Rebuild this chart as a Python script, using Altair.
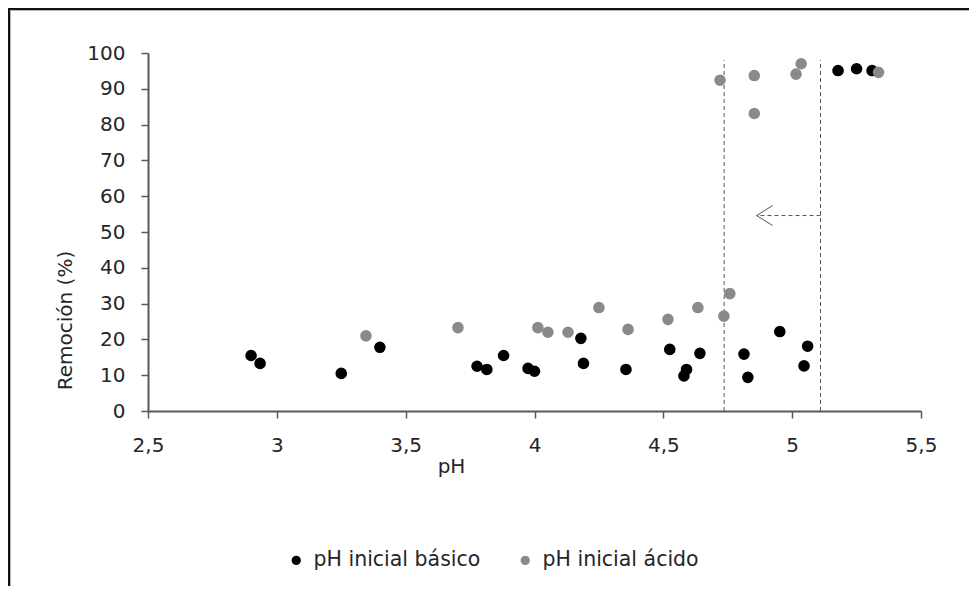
import altair as alt
import pandas as pd

# ---- data ----
black_x = [2.90, 2.935, 3.25, 3.40, 3.777, 3.815, 3.88, 3.975, 4.00, 4.18, 4.19, 4.355,
           4.525, 4.58, 4.59, 4.642, 4.813, 4.828, 4.952, 5.046, 5.06, 5.178, 5.25, 5.31]
black_y = [15.5, 13.3, 10.5, 17.8, 12.5, 11.6, 15.5, 11.9, 11.1, 20.3, 13.3, 11.6,
           17.2, 9.8, 11.6, 16.1, 15.9, 9.4, 22.2, 12.6, 18.1, 95.1, 95.6, 95.1]
gray_x = [3.346, 3.703, 4.013, 4.052, 4.13, 4.25, 4.363, 4.518, 4.634, 4.735, 4.758,
          4.72, 4.853, 4.853, 5.015, 5.035, 5.335]
gray_y = [21.0, 23.3, 23.3, 22.0, 22.0, 28.9, 22.8, 25.6, 28.9, 26.5, 32.8,
          92.4, 93.7, 83.1, 94.1, 97.0, 94.6]
series_names = ["pH inicial básico", "pH inicial ácido"]
series_colors = ["#000000", "#8a8a8a"]
x_ticks = [2.5, 3, 3.5, 4, 4.5, 5, 5.5]
y_ticks = [0, 10, 20, 30, 40, 50, 60, 70, 80, 90, 100]
guide_x = [4.736, 5.11]
guide_top = 98
arrow_from = 5.11
arrow_to = 4.862
arrow_y = 54.6

W, H = 773, 358
PAD = {"left": 140, "top": 45, "right": 48, "bottom": 175}
FONT = "DejaVu Sans"
TXT = "#262626"
AX = "#595959"

df = pd.DataFrame({
    "pH": black_x + gray_x,
    "rem": black_y + gray_y,
    "serie": [series_names[0]] * len(black_x) + [series_names[1]] * len(gray_x),
})
guides = pd.DataFrame({"pH": guide_x, "rem": [0] * len(guide_x), "rem2": [guide_top] * len(guide_x)})
arrow = pd.DataFrame({"pH": [arrow_from], "pH2": [arrow_to], "rem": [arrow_y]})
head = pd.DataFrame({"pH": [arrow_to], "rem": [arrow_y]})

xscale = alt.Scale(domain=[2.5, 5.5], nice=False, zero=False)
yscale = alt.Scale(domain=[0, 100], nice=False)

x_axis = alt.Axis(values=x_ticks, labelExpr="replace(toString(datum.value), '.', ',')",
                  title="pH", titleX=303, titleY=55, titleAlign="center", titleBaseline="middle",
                  labelPadding=17, grid=False, labelOverlap=False, labelFlush=False)
y_axis = alt.Axis(values=y_ticks, title="Remoción (%)", titleX=-83, titleY=267,
                  titleAngle=270, titleAlign="center", titleBaseline="middle",
                  labelPadding=16, grid=False, labelOverlap=False, labelFlush=False)

X = alt.X("pH:Q", scale=xscale, axis=x_axis)
Y = alt.Y("rem:Q", scale=yscale, axis=y_axis)

points = alt.Chart(df).mark_circle(size=135, opacity=1).encode(
    x=X, y=Y,
    color=alt.Color("serie:N", scale=alt.Scale(domain=series_names, range=series_colors),
                    legend=alt.Legend(orient="none", legendX=138, legendY=497, direction="horizontal",
                                      title=None, labelFont=FONT, labelFontSize=20.5, labelColor=TXT,
                                      labelLimit=0, symbolType="circle", symbolSize=85,
                                      symbolStrokeWidth=0, columnPadding=34, labelOffset=7, padding=0)),
)

guide_rules = alt.Chart(guides).mark_rule(strokeDash=[4, 3], color="#555555", strokeWidth=1).encode(
    x=X, y=Y, y2="rem2:Q")

arrow_rule = alt.Chart(arrow).mark_rule(strokeDash=[4, 3], color="#555555", strokeWidth=1).encode(
    x=X, x2="pH2:Q", y=Y)

arrow_head = alt.Chart(head).mark_point(shape="M2,-1.25L0,0L2,1.25", filled=False, size=256,
                                        strokeWidth=1, color="#555555", opacity=1).encode(x=X, y=Y)

one = alt.Data(values=[{"a": 1}])
frame_left = alt.Chart(one).mark_rule(color="#111111", strokeWidth=2).encode(
    x=alt.value(-139), y=alt.value(-45), y2=alt.value(H + PAD["bottom"]))
frame_top = alt.Chart(one).mark_rule(color="#111111", strokeWidth=2).encode(
    x=alt.value(-140), x2=alt.value(W + PAD["right"]), y=alt.value(-44))
shade_left = alt.Chart(one).mark_rule(color="#b5b5b5", strokeWidth=1).encode(
    x=alt.value(-137.5), y=alt.value(-43), y2=alt.value(H + PAD["bottom"]))
shade_top = alt.Chart(one).mark_rule(color="#b5b5b5", strokeWidth=1).encode(
    x=alt.value(-138), x2=alt.value(W + PAD["right"]), y=alt.value(-42.5))

chart = alt.layer(
    frame_left, frame_top, shade_left, shade_top, guide_rules, arrow_rule, arrow_head, points
).properties(
    width=W, height=H, padding=PAD, autosize=alt.AutoSizeParams(type="none"),
    background="white",
).configure_view(stroke=None).configure_axis(
    labelFont=FONT, labelFontSize=20, labelColor=TXT,
    titleFont=FONT, titleFontSize=20, titleColor=TXT, titleFontWeight="normal",
    domainColor=AX, domainWidth=2, tickColor=AX, tickWidth=1.5, tickSize=7,
)

chart.save("out.html", embed_options={"renderer": "svg", "actions": False})
